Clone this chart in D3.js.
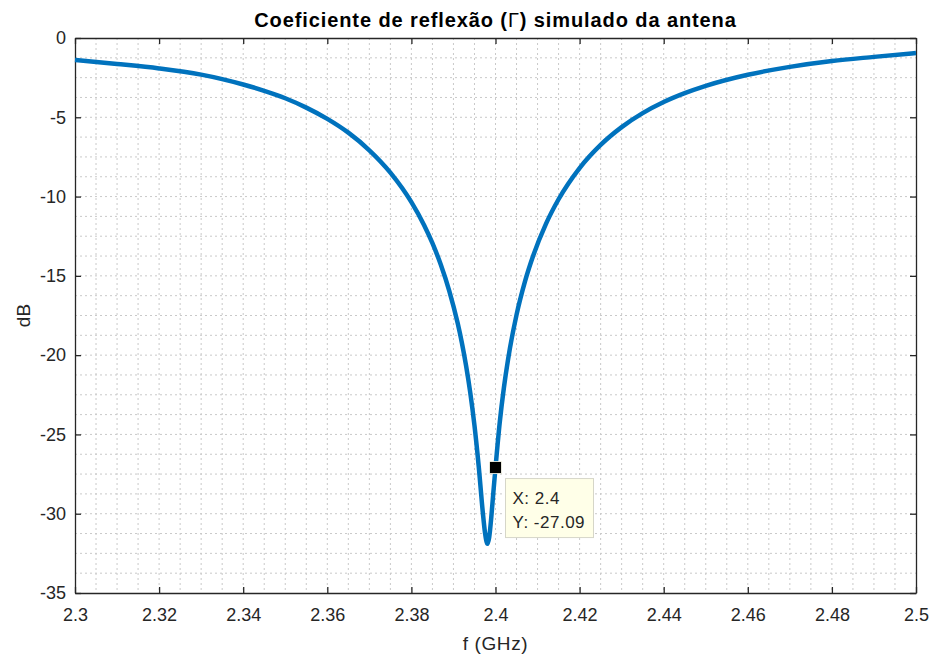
<!DOCTYPE html>
<html>
<head>
<meta charset="utf-8">
<script src="https://cdn.jsdelivr.net/npm/d3@7"></script>
<style>
  body { margin: 0; background: #fff; }
  svg text { font-family: "Liberation Sans", Arial, sans-serif; }
</style>
</head>
<body>
<div id="chart"></div>
<script>
// simulated reflection coefficient
const freqGHz = [2.300, 2.310, 2.320, 2.330, 2.335, 2.340, 2.345, 2.350, 2.355, 2.360,
  2.365, 2.370, 2.375, 2.380, 2.383, 2.385, 2.387, 2.389, 2.391, 2.392,
  2.393, 2.394, 2.395, 2.396, 2.397, 2.3975, 2.3981, 2.3985, 2.399, 2.3995,
  2.400, 2.401, 2.402, 2.403, 2.405, 2.407, 2.409, 2.412, 2.415, 2.420,
  2.425, 2.430, 2.435, 2.440, 2.445, 2.450, 2.460, 2.470, 2.480, 2.490, 2.500];
const gammaDB = [-1.39, -1.64, -1.92, -2.31, -2.59, -2.93, -3.33, -3.80, -4.39, -5.10,
  -5.97, -7.08, -8.49, -10.35, -11.79, -12.94, -14.30, -15.94, -17.98, -19.22,
  -20.66, -22.37, -24.44, -26.99, -29.96, -31.19, -31.9, -31.49, -30.22, -28.62,
  -27.09, -24.26, -22.05, -20.25, -17.46, -15.36, -13.70, -11.72, -10.17, -8.20,
  -6.74, -5.62, -4.74, -4.04, -3.48, -3.02, -2.32, -1.82, -1.45, -1.19, -0.95];

const xTicks = [2.3, 2.32, 2.34, 2.36, 2.38, 2.4, 2.42, 2.44, 2.46, 2.48, 2.5];
const yTicks = [0, -5, -10, -15, -20, -25, -30, -35];

const tipX = 2.4, tipY = -27.09;

let width = 932, height = 659;
let mLeft = 75, mRight = 916, mTop = 38, mBottom = 593;

let svg = d3.select("#chart").append("svg")
    .attr("width", width)
    .attr("height", height);

let xScale = d3.scaleLinear().domain([2.3, 2.5]).range([mLeft, mRight]);
let yScale = d3.scaleLinear().domain([-35, 0]).range([mBottom, mTop]);

// grid (minor + major, all dotted like matlab's "grid minor")
let xGrid = d3.range(0, 41).map(i => 2.3 + i * 0.005);
let yGrid = d3.range(0, 29).map(i => -35 + i * 1.25);

svg.append("g").selectAll("line")
    .data(xGrid.slice(1, -1))
    .enter().append("line")
    .attr("x1", d => xScale(d)).attr("x2", d => xScale(d))
    .attr("y1", mTop).attr("y2", mBottom)
    .attr("stroke", "#c9c9c9")
    .attr("stroke-width", 1)
    .attr("stroke-dasharray", "2,3");

svg.append("g").selectAll("line")
    .data(yGrid.slice(1, -1))
    .enter().append("line")
    .attr("x1", mLeft).attr("x2", mRight)
    .attr("y1", d => yScale(d)).attr("y2", d => yScale(d))
    .attr("stroke", "#c9c9c9")
    .attr("stroke-width", 1)
    .attr("stroke-dasharray", "2,3");

// axes, ticks pointing inwards on all four sides
let fmt = d => String(d);
let xAxis = d3.axisBottom(xScale).tickValues(xTicks).tickSizeInner(-6).tickSizeOuter(0)
    .tickPadding(15).tickFormat(fmt);
let xAxisTop = d3.axisTop(xScale).tickValues(xTicks).tickSizeInner(-6).tickSizeOuter(0).tickFormat("");
let yAxis = d3.axisLeft(yScale).tickValues(yTicks).tickSizeInner(-6).tickSizeOuter(0)
    .tickPadding(9).tickFormat(fmt);
let yAxisRight = d3.axisRight(yScale).tickValues(yTicks).tickSizeInner(-6).tickSizeOuter(0).tickFormat("");

function styleAxis(g) {
    g.select(".domain").attr("stroke", "#262626").attr("stroke-width", 1.3);
    g.selectAll(".tick line").attr("stroke", "#262626").attr("stroke-width", 1.3);
    g.selectAll(".tick text").attr("fill", "#262626").attr("font-size", "18px")
        .attr("font-family", "Liberation Sans, Arial, sans-serif");
}

svg.append("g").attr("transform", "translate(0," + mBottom + ")").call(xAxis).call(styleAxis);
svg.append("g").attr("transform", "translate(0," + mTop + ")").call(xAxisTop).call(styleAxis);
svg.append("g").attr("transform", "translate(" + mLeft + ",0)").call(yAxis).call(styleAxis);
svg.append("g").attr("transform", "translate(" + mRight + ",0)").call(yAxisRight).call(styleAxis);

// the curve
let line = d3.line()
    .x((d, i) => xScale(freqGHz[i]))
    .y(d => yScale(d))
    .curve(d3.curveMonotoneX);

svg.append("path")
    .datum(gammaDB)
    .attr("d", line)
    .attr("fill", "none")
    .attr("stroke", "#0072BD")
    .attr("stroke-width", 4.5)
    .attr("stroke-linejoin", "round");

// data tip
let mx = xScale(tipX), my = yScale(tipY);
svg.append("rect")
    .attr("x", mx - 6).attr("y", my - 6)
    .attr("width", 12).attr("height", 12)
    .attr("fill", "#000")
    .attr("stroke", "#fffff0").attr("stroke-width", 0.8);

let tip = svg.append("g").attr("transform", "translate(" + (mx + 10) + "," + (my + 11) + ")");
tip.append("rect")
    .attr("width", 88).attr("height", 59)
    .attr("fill", "#ffffe8")
    .attr("stroke", "#d6d6c8").attr("stroke-width", 1);
tip.append("text").attr("x", 7).attr("y", 25)
    .attr("font-size", "17px").attr("letter-spacing", "0.5px").attr("fill", "#262626")
    .text("X: " + tipX);
tip.append("text").attr("x", 7).attr("y", 49)
    .attr("font-size", "17px").attr("letter-spacing", "0.5px").attr("fill", "#262626")
    .text("Y: " + tipY);

// labels
let title = svg.append("text")
    .attr("x", (mLeft + mRight) / 2).attr("y", 27)
    .attr("text-anchor", "middle")
    .attr("font-size", "20px").attr("font-weight", "bold")
    .attr("letter-spacing", "0.9px")
    .attr("fill", "#000");
title.append("tspan").text("Coeficiente de reflexão (");
title.append("tspan").attr("font-weight", "normal").text("Γ");
title.append("tspan").text(") simulado da antena");

svg.append("text")
    .attr("x", (mLeft + mRight) / 2).attr("y", 650)
    .attr("text-anchor", "middle")
    .attr("font-size", "19px").attr("letter-spacing", "0.6px").attr("fill", "#262626")
    .text("f (GHz)");

svg.append("text")
    .attr("transform", "translate(30," + (mTop + mBottom) / 2 + ") rotate(-90)")
    .attr("text-anchor", "middle")
    .attr("font-size", "19px").attr("fill", "#262626")
    .text("dB");
</script>
</body>
</html>
